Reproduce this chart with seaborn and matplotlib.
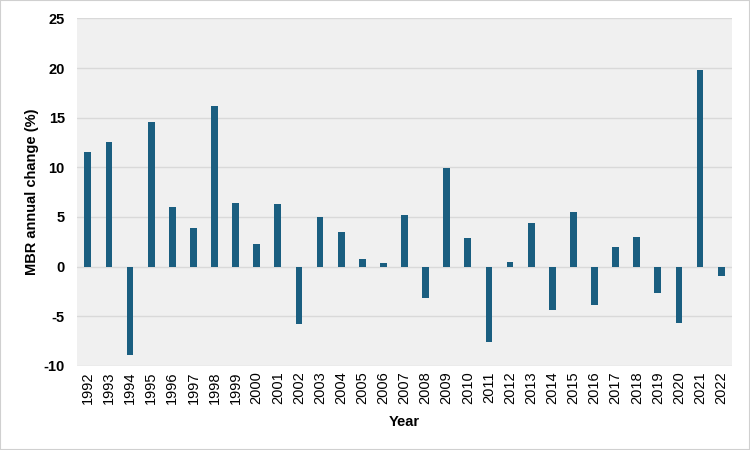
import matplotlib
matplotlib.use("Agg")
import matplotlib.pyplot as plt
import seaborn as sns
import pandas as pd

years = [str(y) for y in range(1992, 2023)]
values = [11.5, 12.55, -8.93, 14.6, 5.97, 3.86, 16.14, 6.41, 2.32, 6.34,
          -5.74, 5.03, 3.46, 0.8, 0.34, 5.2, -3.19, 9.9, 2.89, -7.62,
          0.5, 4.36, -4.33, 5.47, -3.83, 1.98, 2.99, -2.65, -5.67, 19.8, -0.9]
y_ticks = [-10, -5, 0, 5, 10, 15, 20, 25]

df = pd.DataFrame({"Year": years, "MBR": values})

sns.set_theme(style="white")
plt.rcParams['font.family'] = ['Liberation Sans', 'DejaVu Sans']
plt.rcParams['text.color'] = 'black'
plt.rcParams['axes.labelcolor'] = 'black'
plt.rcParams['xtick.color'] = 'black'
plt.rcParams['ytick.color'] = 'black'

fig = plt.figure(figsize=(7.5, 4.5), dpi=100)
fig.patch.set_facecolor("white")
ax = fig.add_axes([0.103, 0.187, 0.8727, 0.772])
ax.set_facecolor("#f0f0f0")

sns.barplot(data=df, x="Year", y="MBR", color="#1a5e80", saturation=1,
            width=0.32, ax=ax, zorder=3, linewidth=0, edgecolor="none")

ax.set_ylim(-10, 25)
ax.set_yticks(y_ticks)
ax.set_yticklabels([str(t) for t in y_ticks], fontweight="bold", fontsize=10.5)
ax.yaxis.grid(True, color="#d9d9d9", linewidth=1, zorder=0)
ax.set_axisbelow(True)
ax.set_xlim(-0.5, len(years) - 0.5)
for s in ax.spines.values():
    s.set_visible(False)
ax.tick_params(axis="x", labelrotation=90, labelsize=10.5, length=0, pad=4)
ax.tick_params(axis="y", length=0, pad=9)
ax.set_xlabel("Year", fontweight="bold", fontsize=10.5, labelpad=8)
ax.set_ylabel("MBR annual change (%)", fontweight="bold", fontsize=10.5, labelpad=3)

border = plt.Rectangle((0, 0), 1, 1, transform=fig.transFigure, fill=False,
                       edgecolor="#d0d0d0", linewidth=1.5)
fig.add_artist(border)

fig.savefig("out.png", dpi=100)
